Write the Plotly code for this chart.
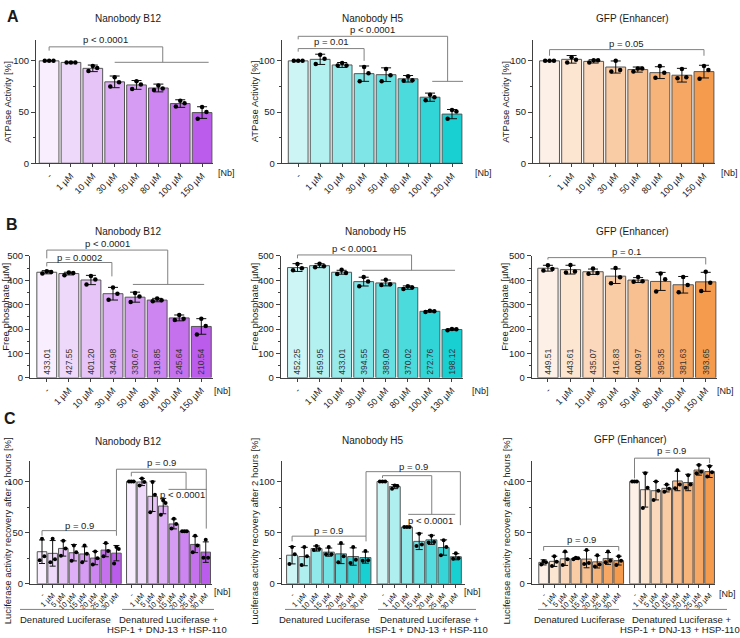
import plotly.graph_objects as go

W, H = 740, 638
FONT = "Liberation Sans, Arial, Helvetica, sans-serif"

# ---------------- DATA ----------------
a_cats_b12 = ["-", "1 µM", "10 µM", "30 µM", "50 µM", "80 µM", "100 µM", "150 µM"]
a_cats_h5 = ["-", "1 µM", "10 µM", "30 µM", "50 µM", "80 µM", "100 µM", "130 µM"]
a_cats_gfp = ["-", "1 µM", "10 µM", "30 µM", "50 µM", "80 µM", "100 µM", "150 µM"]

# A: ATPase activity [%]
a_b12_mean = [100, 98.5, 92.7, 79.5, 76.5, 73.5, 58.3, 49.5]
a_b12_sd = [0, 0.3, 3.2, 5.7, 4.3, 3.8, 3.7, 5.7]
a_b12_pts = [[100, 100, 100], [98.5, 98.5, 98.5], [95, 93, 90], [84, 79, 75],
             [80, 77, 72.5], [76, 73, 71.5], [61, 58.5, 55.5], [55, 50, 43.5]]

a_h5_mean = [100, 101.5, 96, 87.5, 86.5, 82.5, 64.5, 48]
a_h5_sd = [0, 5, 2.4, 7.5, 6.7, 3.2, 4, 4.5]
a_h5_pts = [[100, 100, 100], [106, 102, 97], [98, 95.5, 95.5], [94, 88, 80],
            [92, 86, 80], [85, 81, 80.5], [67, 64.5, 61.5], [52, 50.5, 43.5]]

a_gfp_mean = [100, 101.5, 99.5, 94, 91.5, 88.5, 86, 89.5]
a_gfp_sd = [0, 3.7, 1.6, 5.9, 2.5, 5.8, 6.7, 6.2]
a_gfp_pts = [[100, 100, 100], [103.5, 101, 98.5], [100.5, 100.5, 98.5], [100, 91, 89.5],
             [92.5, 92.5, 89.5], [95, 88.5, 83.5], [92, 84, 83], [95, 91, 82.5]]

# B: Free phosphate [µM]
b_b12_mean = [433.01, 427.55, 401.20, 344.98, 330.67, 318.85, 245.64, 210.54]
b_b12_sd = [6.5, 5.5, 19, 26, 20.5, 7, 12, 32]
b_b12_pts = [[437, 434, 428], [432, 430, 421], [418, 403, 383], [370, 345, 320],
             [348, 333, 311], [325, 318, 314], [258, 242, 237], [242, 212, 178]]

b_h5_mean = [452.25, 459.95, 433.01, 394.55, 389.09, 370.02, 272.76, 198.12]
b_h5_sd = [16, 8, 8, 18, 12, 7, 3, 3]
b_h5_pts = [[467, 449, 441], [468, 458, 454], [443, 430, 426], [413, 395, 376],
            [402, 384, 381], [376, 370, 364], [275, 273, 270], [200, 199, 195]]

b_gfp_mean = [449.51, 443.61, 435.07, 416.83, 400.97, 395.35, 381.63, 393.65]
b_gfp_sd = [12, 18, 11, 30, 10, 37, 34, 39]
b_gfp_pts = [[462, 446, 440], [463, 436, 432], [448, 430, 427], [450, 412, 388],
             [413, 396, 394], [428, 404, 354], [413, 381, 351], [435, 390, 356]]

# C: Luciferase activity recovery after 2 hours [%]
c_cats_8 = ["-", "1 µM", "5 µM", "10 µM", "15 µM", "20 µM", "25 µM", "30 µM"]
c_cats_7 = ["-", "1 µM", "10 µM", "15 µM", "20 µM", "25 µM", "30 µM"]

c_b12_den_mean = [31.4, 29.8, 34.6, 30.4, 29.2, 25.2, 33, 30]
c_b12_den_sd = [11.5, 12.5, 7.5, 8, 7, 6.5, 6.5, 7.5]
c_b12_den_pts = [[44, 27, 23], [44, 24, 21], [42, 34.5, 27.5], [37.5, 31, 22.5],
                 [37.5, 29.5, 21], [31.5, 25, 19], [40, 32, 27], [36, 34, 20]]
c_b12_chap_mean = [100, 99.5, 85.5, 76, 58.5, 51.5, 38.5, 31]
c_b12_chap_sd = [0, 3.5, 14.8, 7.5, 4.8, 0.3, 8, 10]
c_b12_chap_pts = [[100, 100, 100], [103, 99.5, 96], [99.5, 87, 70], [81.5, 79, 67.5],
                  [63.5, 58.5, 54], [51.5, 51.5, 51.5], [47, 37.5, 31], [43, 25.5, 25.5]]

c_h5_den_mean = [28, 26.7, 34.5, 31, 29.3, 26.7, 25.7]
c_h5_den_sd = [8.5, 9, 2.5, 4, 9.5, 8.5, 5.5]
c_h5_den_pts = [[36, 29, 19.5], [36, 27, 18.5], [37, 34, 33], [36, 29, 29],
                [40, 27, 21], [36, 23.5, 20.5], [32, 23, 22.5]]
c_h5_chap_mean = [100, 95, 55.5, 41.5, 43, 35.5, 26.5]
c_h5_chap_sd = [0, 2, 0.3, 8, 4.5, 7.5, 3]
c_h5_chap_pts = [[100, 100, 100], [96, 95.5, 93], [55.5, 55.5, 55.5], [49, 38.5, 37],
                 [47, 41, 40.5], [42.5, 36, 28], [30, 25, 24.5]]

c_gfp_den_mean = [21, 22, 24.5, 24.8, 24.2, 21.5, 24.8, 22.7]
c_gfp_den_sd = [2.5, 5, 6.5, 1, 8.5, 6, 5.8, 4.3]
c_gfp_den_pts = [[22, 21, 19], [27, 21.5, 17.5], [31.5, 24, 18.5], [25.5, 25, 24],
                 [33, 20.5, 19.5], [28, 19, 17], [31.5, 22.5, 21], [27, 22.5, 18.5]]
c_gfp_chap_mean = [100, 92, 91, 93.3, 100.5, 99, 111.2, 109.7]
c_gfp_chap_sd = [0, 17, 9, 3.5, 9.5, 8, 5, 5.8]
c_gfp_chap_pts = [[100, 100, 100], [108, 94, 74], [100, 91, 82], [97, 93, 90],
                  [111, 97, 93.5], [106, 97, 94], [116, 109.5, 108], [115, 109, 105]]

# ---------------- STYLE ----------------
def grad(c0, c1, n):
    out = []
    for i in range(n):
        t = i / (n - 1)
        out.append("rgb(%d,%d,%d)" % tuple(round(c0[j] + (c1[j] - c0[j]) * t) for j in range(3)))
    return out

PURPLE = ((248, 238, 253), (188, 92, 236))
TEAL = ((205, 245, 245), (24, 208, 210))
ORANGE = ((253, 241, 231), (245, 155, 78))

AXC = "#404040"
BRC = "#808080"
TXC = "#1a1a1a"
OFFS = [0.0, 0.2, -0.2]

fig = go.Figure()
shapes = []
annos = []

# panel geometry (pixels)
rowA = (35, 160)
rowB = (254.3, 378.3)
rowC = (463, 588)
P = {
    1: dict(xd=(36, 213), yd=rowA, xr=(-0.6, 7.5), ymax=120, dt=50, mdt=25),
    2: dict(xd=(281.7, 463), yd=rowA, xr=(-0.75, 7.5), ymax=120, dt=50, mdt=25),
    3: dict(xd=(533, 715), yd=rowA, xr=(-0.75, 7.5), ymax=120, dt=50, mdt=25),
    4: dict(xd=(30, 213), yd=rowB, xr=(-0.76, 7.53), ymax=500, dt=100, mdt=50),
    5: dict(xd=(280.7, 463), yd=rowB, xr=(-0.76, 7.5), ymax=500, dt=100, mdt=50),
    6: dict(xd=(531.7, 717), yd=rowB, xr=(-0.72, 7.5), ymax=500, dt=100, mdt=50),
    7: dict(xd=(30, 211.7), yd=rowC, xr=(-1.13, 15.96), ymax=120, dt=50, mdt=25),
    8: dict(xd=(281.7, 465), yd=rowC, xr=(-0.85, 14.15), ymax=120, dt=50, mdt=25),
    9: dict(xd=(531.7, 715), yd=rowC, xr=(-1.11, 15.97), ymax=120, dt=50, mdt=25),
}


def px_x(k, x):
    p = P[k]
    x0, x1 = p["xd"]
    r0, r1 = p["xr"]
    return (x0 + (x - r0) / (r1 - r0) * (x1 - x0)) / W


def px_y(k, v):
    p = P[k]
    top, bot = p["yd"]
    return 1 - (bot - v / p["ymax"] * (bot - top)) / H


def seg(k, x0, y0, x1, y1):
    shapes.append(dict(type="line", xref="paper", yref="paper",
                       x0=px_x(k, x0), x1=px_x(k, x1), y0=px_y(k, y0), y1=px_y(k, y1),
                       line=dict(color=BRC, width=1)))


def bracket(k, x0, x1, top, yl, yr):
    seg(k, x0, yl, x0, top)
    seg(k, x0, top, x1, top)
    seg(k, x1, top, x1, yr)


def ptext(k, x, ypx, s, size=9.5):
    annos.append(dict(x=px_x(k, x), y=1 - ypx / H, xref="paper", yref="paper", text=s,
                      showarrow=False, xanchor="center", yanchor="middle",
                      font=dict(size=size, color=TXC, family=FONT)))


def ptxt(xpx, ypx, s, size=9.5, angle=0, bold=False, xanchor="center"):
    annos.append(dict(x=xpx / W, y=1 - ypx / H, xref="paper", yref="paper",
                      text=("<b>%s</b>" % s) if bold else s, textangle=angle,
                      showarrow=False, xanchor=xanchor, yanchor="middle",
                      font=dict(size=size, color=TXC, family=FONT)))


def panel(k, xpos, cats, means, sds, pts, colors, texts=None, cap=5, msize=4.5,
          tfs=9, offs_scale=1.0):
    xa = "x" if k == 1 else "x%d" % k
    ya = "y" if k == 1 else "y%d" % k
    fig.add_trace(go.Bar(
        x=xpos, y=means, width=0.9, xaxis=xa, yaxis=ya,
        marker=dict(color=colors, line=dict(color="#555555", width=1)),
        error_y=dict(type="data", array=sds, visible=True, color="#111111",
                     thickness=1, width=cap),
        text=texts, textposition="inside" if texts else "none",
        insidetextanchor="start", textangle=-90, constraintext="none",
        textfont=dict(size=8.5, color="#333333", family=FONT),
        showlegend=False, hoverinfo="skip"))
    px_, py_ = [], []
    for i, group in enumerate(pts):
        for j, v in enumerate(group):
            px_.append(xpos[i] + OFFS[j] * offs_scale)
            py_.append(v)
    fig.add_trace(go.Scatter(x=px_, y=py_, mode="markers", xaxis=xa, yaxis=ya,
                             marker=dict(color="#000000", size=msize),
                             cliponaxis=False, showlegend=False, hoverinfo="skip"))
    p = P[k]
    axx = dict(domain=[p["xd"][0] / W, p["xd"][1] / W], anchor=ya, range=list(p["xr"]),
               tickmode="array", tickvals=xpos, ticktext=cats, tickangle=-45,
               ticks="outside", ticklen=3, tickcolor=AXC, showline=True, linecolor=AXC,
               linewidth=1, showgrid=False, zeroline=False,
               tickfont=dict(size=tfs, color=TXC, family=FONT))
    axy = dict(domain=[1 - p["yd"][1] / H, 1 - p["yd"][0] / H], anchor=xa,
               range=[0, p["ymax"]], tickmode="linear", tick0=0, dtick=p["dt"],
               ticks="outside", ticklen=4, tickcolor=AXC, showline=True, linecolor=AXC,
               linewidth=1, showgrid=False, zeroline=False,
               minor=dict(ticks="outside", ticklen=2, dtick=p["mdt"], tickcolor=AXC),
               tickfont=dict(size=9.5, color=TXC, family=FONT))
    fig.layout["xaxis" if k == 1 else "xaxis%d" % k] = axx
    fig.layout["yaxis" if k == 1 else "yaxis%d" % k] = axy


idx8 = list(range(8))

# Row A
panel(1, idx8, a_cats_b12, a_b12_mean, a_b12_sd, a_b12_pts, grad(*PURPLE, 8))
panel(2, idx8, a_cats_h5, a_h5_mean, a_h5_sd, a_h5_pts, grad(*TEAL, 8))
panel(3, idx8, a_cats_gfp, a_gfp_mean, a_gfp_sd, a_gfp_pts, grad(*ORANGE, 8))

# Row B
fmt = lambda arr: ["%.2f" % v for v in arr]
panel(4, idx8, a_cats_b12, b_b12_mean, b_b12_sd, b_b12_pts, grad(*PURPLE, 8), texts=fmt(b_b12_mean))
panel(5, idx8, a_cats_h5, b_h5_mean, b_h5_sd, b_h5_pts, grad(*TEAL, 8), texts=fmt(b_h5_mean))
panel(6, idx8, a_cats_gfp, b_gfp_mean, b_gfp_sd, b_gfp_pts, grad(*ORANGE, 8), texts=fmt(b_gfp_mean))

# Row C
g1 = 8.4
xs_c1 = [i for i in range(8)] + [g1 + i for i in range(8)]
panel(7, xs_c1, c_cats_8 + c_cats_8, c_b12_den_mean + c_b12_chap_mean,
      c_b12_den_sd + c_b12_chap_sd, c_b12_den_pts + c_b12_chap_pts,
      grad(*PURPLE, 8) * 2, cap=3, msize=4, tfs=7.5, offs_scale=1.1)
g2 = 7.4
xs_c2 = [i for i in range(7)] + [g2 + i for i in range(7)]
panel(8, xs_c2, c_cats_7 + c_cats_7, c_h5_den_mean + c_h5_chap_mean,
      c_h5_den_sd + c_h5_chap_sd, c_h5_den_pts + c_h5_chap_pts,
      grad(*TEAL, 7) * 2, cap=3.5, msize=4, tfs=7.5, offs_scale=1.1)
g3 = 8.47
xs_c3 = [i for i in range(8)] + [g3 + i for i in range(8)]
panel(9, xs_c3, c_cats_8 + c_cats_8, c_gfp_den_mean + c_gfp_chap_mean,
      c_gfp_den_sd + c_gfp_chap_sd, c_gfp_den_pts + c_gfp_chap_pts,
      grad(*ORANGE, 8) * 2, cap=3, msize=4, tfs=7.5, offs_scale=1.1)

# ---------------- significance brackets ----------------
bracket(1, 0, 5.2, 113.7, 110, 98.6); seg(1, 3.0, 98.6, 7.3, 98.6)
ptext(1, 2.6, 34, "p &lt; 0.0001")
bracket(2, 0, 3, 112, 109, 100); ptext(2, 1.5, 36, "p = 0.01")
bracket(2, 0, 6.8, 124, 121, 80); seg(2, 6.1, 80, 7.5, 80)
ptext(2, 3.4, 24, "p &lt; 0.0001")
bracket(3, 0, 7, 111, 105, 105); ptext(3, 3.5, 38, "p = 0.05")

bracket(4, 0, 5.48, 524, 490, 383); seg(4, 3.9, 383, 7.13, 383)
ptext(4, 2.75, 241.7, "p &lt; 0.0001")
bracket(4, 0, 2.95, 473, 457, 416); ptext(4, 1.47, 256, "p = 0.0002")
bracket(5, 0, 5.17, 504, 490, 441); seg(5, 2.93, 441, 7.14, 441)
ptext(5, 2.6, 246.7, "p &lt; 0.0001")
bracket(6, 0, 7, 493, 485, 465); ptext(6, 3.5, 250, "p = 0.1")

bracket(7, 0, 7, 52, 47, 47); ptext(7, 3.5, 528.3, "p = 0.9")
bracket(7, 7, 15.45, 112, 52, 54); ptext(7, 11.2, 465, "p = 0.9")
bracket(7, 8.4, 13.55, 109, 105, 92.3); seg(7, 11.9, 92.3, 15.5, 92.3)
ptext(7, 13.2, 496.7, "p &lt; 0.0001")

bracket(8, 0, 6.05, 46.6, 41.5, 41.5); ptext(8, 3.0, 534, "p = 0.9")
bracket(8, 6.05, 13.77, 109.6, 46.6, 57.3); ptext(8, 9.9, 468.3, "p = 0.9")
bracket(8, 7.4, 11.43, 105.7, 103.4, 67.9); seg(8, 9.5, 67.9, 13.35, 67.9)
ptext(8, 11.3, 523.3, "p &lt; 0.0001")

bracket(9, 0, 7, 36.5, 32.4, 32.4); ptext(9, 3.5, 542.7, "p = 0.9")
bracket(9, 8.47, 15.47, 122.8, 103, 118); ptext(9, 11.9, 452.5, "p = 0.9")

# ---------------- titles, labels ----------------
ptxt(128, 13, "Nanobody B12", 10); ptxt(373, 13, "Nanobody H5", 10); ptxt(632, 13, "GFP (Enhancer)", 10)
ptxt(128, 229, "Nanobody B12", 10); ptxt(376, 229, "Nanobody H5", 10); ptxt(632, 229, "GFP (Enhancer)", 10)
ptxt(128, 443, "Nanobody B12", 10); ptxt(373, 442, "Nanobody H5", 10); ptxt(630, 441, "GFP (Enhancer)", 10)

ptxt(13, 11, "A", 16, bold=True); ptxt(12, 222, "B", 16, bold=True); ptxt(10, 420, "C", 16, bold=True)

for x in (8, 254.5, 506):
    ptxt(x, 97.5, "ATPase Activity [%]", 9.5, angle=-90)
for x in (6, 255, 505):
    ptxt(x, 306, "Free phosphate [µM]", 9.5, angle=-90)
for x in (7.5, 255, 506.7):
    ptxt(x, 534, "Luciferase activity recovery after 2 hours [%]", 9.5, angle=-90)

for x, y in [(226, 170), (483, 170), (729, 170), (222, 391.7), (480, 391.7), (725, 391.7),
             (222, 596), (472, 596), (727, 598)]:
    ptxt(x, y, "[Nb]", 9)

# group labels under C panels
for (l1, l2, m1, m2) in [((20, 106), (122, 214), 65, 167), ((285, 364), (378, 476), 324, 427.5),
                         ((538, 619), (632, 727), 579.5, 679.5)]:
    for a, b in (l1, l2):
        shapes.append(dict(type="line", xref="paper", yref="paper", x0=a / W, x1=b / W,
                           y0=1 - 614 / H, y1=1 - 614 / H, line=dict(color=BRC, width=1)))
    ptxt(m1, 624.5, "Denatured Luciferase", 9.5)
    ptxt(m2 + 1.5, 624.5, "Denatured Luciferase +", 9.5)
    ptxt(m2, 634, "HSP-1 + DNJ-13 + HSP-110", 9.5)

fig.update_layout(width=W, height=H, margin=dict(l=0, r=0, t=0, b=0),
                  paper_bgcolor="white", plot_bgcolor="white",
                  font=dict(family=FONT, color=TXC), bargap=0.1,
                  shapes=shapes, annotations=annos, showlegend=False)

fig.write_html("out.html")
